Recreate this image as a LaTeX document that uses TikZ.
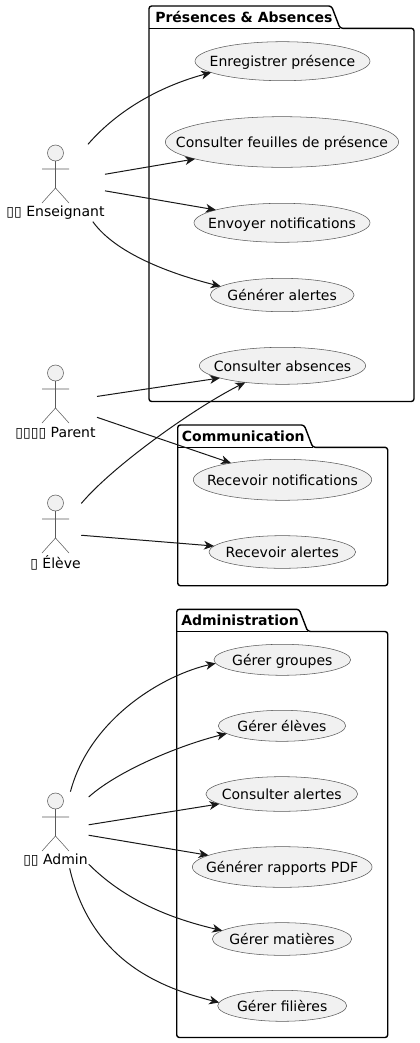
\documentclass[tikz,border=0pt]{standalone}
\usepackage{fontspec}
\setmainfont{DejaVu Sans}
\usetikzlibrary{shapes.geometric,arrows.meta}
\definecolor{ink}{HTML}{181818}
\definecolor{thinline}{HTML}{5A5A5A}
\definecolor{ucfill}{HTML}{F1F1F1}
\newcommand{\uclabel}[1]{\makebox[0pt]{\raisebox{-3.9pt}[0pt][0pt]{#1}}}
\tikzset{
  x=0.75pt,y=-0.75pt,
  pkgline/.style={draw=black,line width=1.05pt,line join=round,fill=white},
  usecase/.style={ellipse,draw=thinline,line width=0.4pt,fill=ucfill,inner sep=0pt,outer sep=0pt,text=black,font=\fontsize{10.5pt}{12pt}\selectfont},
  pkgtitle/.style={inner sep=0pt,font=\bfseries\fontsize{10.5pt}{12pt}\selectfont},
  actorlabel/.style={inner sep=0pt,font=\fontsize{10.5pt}{12pt}\selectfont},
  actorbox/.style={rectangle,inner sep=0pt,outer sep=0pt,draw=none},
  edge/.style={draw=ink,line width=0.75pt,-{Stealth[length=7.5pt,width=6.5pt,inset=2.2pt]}},
  pics/actorfig/.style={code={
    \draw[thinline,line width=0.4pt,fill=ucfill] (0,0) circle[radius=8];
    \draw[thinline,line width=0.4pt] (0,8) -- (0,35) (-13.5,16) -- (13.5,16) (-13.5,50) -- (0,35) -- (13.5,50);
  }}
}
\newcommand{\pkgshape}[6]{% left, tabtop, tabright, bodytop, right, bottom
  \draw[pkgline,rounded corners=2pt] (#1,#4) -- (#1,#2) -- (#3-8.5,#2) -- (#3,#4) -- (#5,#4) -- (#5,#6) -- (#1,#6) -- cycle;
  \draw[pkgline,fill=none] (#1,#4) -- (#3,#4);
}
\begin{document}
\begin{tikzpicture}
\useasboundingbox (0,0) rectangle (420,1043);
% packages
\pkgshape{149}{6}{340}{28.3}{414}{401.5}
\node[pkgtitle,anchor=west] (pkgA) at (155,17) {Présences \& Absences};
\pkgshape{177.7}{425}{312.7}{447.3}{387.7}{585.7}
\node[pkgtitle,anchor=west] (pkgB) at (181.7,436) {Communication};
\pkgshape{176.7}{609.3}{307.7}{631.5}{387.7}{1037.5}
\node[pkgtitle,anchor=west] (pkgC) at (181,620) {Administration};
% use cases
\node[usecase,minimum width=131.25pt,minimum height=29.25pt] (enr) at (282.5,61.2) {\uclabel{Enregistrer présence}};
\node[usecase,minimum width=175pt,minimum height=38pt] (feu) at (282,142) {\uclabel{Consulter feuilles de présence}};
\node[usecase,minimum width=132pt,minimum height=29.25pt] (env) at (282,222.8) {\uclabel{Envoyer notifications}};
\node[usecase,minimum width=107.8pt,minimum height=25pt] (gal) at (282.2,295) {\uclabel{Générer alertes}};
\node[usecase,minimum width=124.7pt,minimum height=27.75pt] (cab) at (282.5,365.8) {\uclabel{Consulter absences}};
\node[usecase,minimum width=133.8pt,minimum height=30.75pt] (rno) at (282.5,479.8) {\uclabel{Recevoir notifications}};
\node[usecase,minimum width=110pt,minimum height=24.5pt] (ral) at (282.3,552) {\uclabel{Recevoir alertes}};
\node[usecase,minimum width=102.5pt,minimum height=23.25pt] (ggr) at (282.3,659.8) {\uclabel{Gérer groupes}};
\node[usecase,minimum width=95.5pt,minimum height=23.25pt] (gel) at (282,725.8) {\uclabel{Gérer élèves}};
\node[usecase,minimum width=113.8pt,minimum height=26pt] (cal) at (281.8,794) {\uclabel{Consulter alertes}};
\node[usecase,minimum width=134.8pt,minimum height=30.5pt] (rap) at (282.2,867) {\uclabel{Générer rapports PDF}};
\node[usecase,minimum width=104.5pt,minimum height=24.5pt] (gma) at (282,939) {\uclabel{Gérer matières}};
\node[usecase,minimum width=96.75pt,minimum height=23.25pt] (gfi) at (282.2,1005.8) {\uclabel{Gérer filières}};
% actors
\pic at (55.5,153) {actorfig};
\node[actorlabel] (lens) at (55.5,213) {▯▯ Enseignant};
\node[actorbox,minimum width=74.25pt,minimum height=58pt] (ens) at (55.5,183) {};
\pic at (55.5,373) {actorfig};
\node[actorlabel] (lpar) at (55.5,433) {▯▯▯▯ Parent};
\node[actorbox,minimum width=62.25pt,minimum height=58.5pt] (par) at (55.5,403) {};
\pic at (55.5,503) {actorfig};
\node[actorlabel] (lele) at (55.5,563) {▯ Élève};
\node[actorbox,minimum width=38.5pt,minimum height=58.5pt] (ele) at (55.6,533) {};
\pic at (55.5,801) {actorfig};
\node[actorlabel] (ladm) at (55.5,860) {▯▯ Admin};
\node[actorbox,minimum width=49.5pt,minimum height=57.5pt] (adm) at (55.7,830) {};
% connectors
\draw[edge] (ens.50.6) .. controls +(33,-38) and +(-45,12) .. (enr.-171.3);
\draw[edge] (ens.10) -- (feu.-169.8);
\draw[edge] (ens.-9.5) -- (env.169.8);
\draw[edge] (ens.-46.9) .. controls +(25,35) and +(-40,-10) .. (gal.172.3);
\draw[edge] (par.9.6) -- (cab.-169.8);
\draw[edge] (par.-19) -- (rno.162);
\draw[edge] (ele.49.7) .. controls +(32,-38) and +(-50,25) .. (cab.-156.5);
\draw[edge] (ele.-5.1) -- (ral.175);
\draw[edge] (adm.69.5) .. controls +(20,-75) and +(-50,11) .. (ggr.-177);
\draw[edge] (adm.45) .. controls +(30,-27) and +(-45,11) .. (gel.-172.4);
\draw[edge] (adm.9.8) -- (cal.-171.7);
\draw[edge] (adm.-9.8) -- (rap.171.3);
\draw[edge] (adm.-46) .. controls +(32,32) and +(-60,-14) .. (gma.172.8);
\draw[edge] (adm.-70.8) .. controls +(22,95) and +(-55,-14) .. (gfi.177.2);
\end{tikzpicture}
\end{document}
